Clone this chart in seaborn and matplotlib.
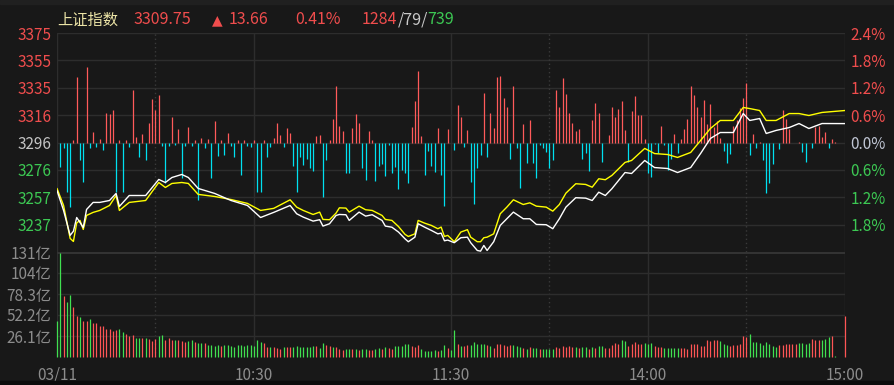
import matplotlib
matplotlib.use("Agg")
import matplotlib.pyplot as plt
import numpy as np
import pandas as pd
import seaborn as sns

# ---------------- data ----------------
PRE_CLOSE = 3296.09
LAST = 3309.75
CHANGE = 13.66
CHANGE_PCT = "0.41%"
ADV, FLAT, DEC = 1284, 79, 739

x_tick_minutes = [0, 60, 120, 180, 240]
x_tick_labels = ["03/11", "10:30", "11:30", "14:00", "15:00"]
dotted_minutes = [30, 150, 210]

price_tick_labels = ["3375", "3355", "3335", "3316", "3296", "3276", "3257", "3237"]
pct_tick_values = [2.4, 1.8, 1.2, 0.6, 0.0, -0.6, -1.2, -1.8]
pct_tick_labels = ["2.4%", "1.8%", "1.2%", "0.6%", "0.0%", "0.6%", "1.2%", "1.8%"]

vol_tick_values = [26.1, 52.2, 78.3, 104.4, 130.5]
vol_tick_labels = ["26.1亿", "52.2亿", "78.3亿", "104亿", "131亿"]

line_minutes = [0, 2, 4, 5, 6, 7, 8, 9, 11, 13, 16, 18, 19, 22, 27, 31, 33, 35, 38, 40,
                43, 48, 53, 58, 62, 66,
                71, 73, 75, 78, 80, 81, 83, 85, 86, 88, 89, 92, 94, 96, 99, 100, 102, 104,
                106, 107, 109, 110, 112, 114, 116, 117, 118, 119, 121, 123, 125, 126, 128,
                129, 130, 131, 133, 135, 137, 139, 142, 144, 146, 149, 151, 153, 155, 158,
                161, 163, 165, 167, 169,
                173, 175, 179, 182, 186, 189, 193, 196, 199, 202, 206, 209, 211, 214, 216,
                219, 223, 226, 229, 233, 240]
index_price = [3261.4, 3247.0, 3229.0, 3232.0, 3241.9, 3238.3, 3234.7, 3247.7, 3252.8, 3252.8,
               3254.2, 3259.3, 3249.9, 3257.8, 3257.8, 3269.4, 3267.2, 3270.8, 3273.0, 3270.8,
               3262.9, 3259.3, 3254.2, 3250.6, 3241.9, 3245.6,
               3250.6, 3244.6, 3242.2, 3239.3, 3240.3, 3235.7, 3237.4, 3243.4, 3244.1, 3243.9,
               3239.8, 3245.8, 3242.9, 3243.9, 3239.8, 3235.7, 3234.9, 3231.4, 3226.5, 3224.4,
               3227.7, 3237.4, 3234.9, 3232.6, 3230.1, 3230.6, 3225.1, 3225.6, 3223.7, 3227.3,
               3227.7, 3223.7, 3218.1, 3217.6, 3221.7, 3218.1, 3224.4, 3236.2, 3241.0, 3245.8,
               3241.0, 3241.0, 3236.9, 3236.7, 3233.8, 3241.0, 3249.4, 3256.2, 3255.9, 3254.2,
               3260.2, 3257.8, 3262.7,
               3274.4, 3273.7, 3283.1, 3278.0, 3277.3, 3274.4, 3278.0, 3288.1, 3299.0, 3303.3,
               3303.3, 3317.0, 3312.0, 3313.4, 3302.6, 3304.8, 3306.9, 3309.8, 3306.2, 3309.8,
               3309.75]
equal_weight = [3262.9, 3250.6, 3226.8, 3224.6, 3238.0, 3239.8, 3233.3, 3243.4, 3245.6, 3247.0,
                3250.6, 3257.8, 3247.0, 3252.8, 3254.2, 3267.2, 3263.6, 3266.5, 3267.2, 3266.5,
                3258.6, 3257.1, 3254.9, 3252.1, 3247.0, 3248.5,
                3254.7, 3249.4, 3247.0, 3244.1, 3245.8, 3240.5, 3240.3, 3245.1, 3248.9, 3248.7,
                3245.8, 3250.1, 3247.5, 3247.0, 3243.4, 3240.5, 3239.8, 3235.4, 3229.7, 3228.2,
                3230.1, 3239.8, 3237.8, 3236.2, 3233.8, 3235.0, 3228.2, 3229.0, 3224.4, 3231.4,
                3233.1, 3227.7, 3224.4, 3224.4, 3227.3, 3227.7, 3230.1, 3244.6, 3249.4, 3254.7,
                3251.3, 3252.5, 3250.1, 3249.4, 3246.5, 3251.3, 3259.5, 3266.3, 3265.8, 3263.8,
                3269.9, 3269.2, 3272.3,
                3281.7, 3283.1, 3291.8, 3288.1, 3287.4, 3285.3, 3288.9, 3297.5, 3306.2, 3312.0,
                3312.0, 3321.4, 3320.6, 3319.2, 3312.0, 3312.0, 3317.0, 3317.0, 3315.6, 3317.8,
                3319.2]

# per-minute breadth (buy/sell strength) bars, arbitrary units
breadth = [
    0, -25, -6, -50, -65, 3, 66, -18, -40, 76,
    -6, 11, -5, 4, -8, 30, 29, 33, -50, 3,
    -50, 3, -5, 53, 6, -15, 9, -18, 20, 44,
    33, 48, -4, -41, -4, 26, -3, 14, -36, -4,
    16, -4, 3, -58, 5, -6, 4, -36, 22, -14,
    3, -13, 10, -4, -15, 3, -33, 3, -4, -5,
    3, -50, -50, 3, -15, -5, 5, 20, 8, -5,
    15, 10, -24, -50, -15, -23, -17, -26, -29, 7,
    8, -55, -18, 3, 24, 57, 17, 12, -31, -31,
    15, 29, 20, -26, -38, 12, 3, -39, -24, -22,
    -34, -3, -31, -25, -47, -28, -31, -41, 16, 42,
    72, 7, -33, -9, -24, -30, 15, -33, -64, 14,
    0, -8, 38, 26, -5, 13, -40, -62, -26, -13,
    50, -15, 30, 15, 66, 67, 45, 36, -17, 57,
    -6, -46, 19, -21, 23, -21, -36, -3, -6, -10,
    -26, -18, 53, 36, 65, 49, 30, 20, 12, 14,
    -17, -11, -29, 23, 40, 30, -20, -1, 8, 36,
    26, 34, 42, 13, -20, 32, 47, 28, 28, 4,
    -31, -35, -2, -11, 17, -3, -28, -17, 9, -11,
    4, 14, 24, 57, 48, 36, 26, 43, 19, 39,
    16, 22, 5, -9, -21, -12, 17, 23, 35, 45,
    60, -13, 9, -6, 1, -18, -51, -41, -22, 0,
    -7, 33, 24, 14, 0, 0, 1, -10, -20, 0,
    -6, 16, 17, 6, 11, -6, 4, 1, 0, 0,
    0]

# per-minute turnover (亿)
volume = [
    44.7, 129.0, 75.8, 68.4, 77.0, 62.0, 51.0, 49.7, 44.7, 44.7,
    47.2, 42.3, 42.3, 38.5, 38.5, 34.8, 34.8, 32.3, 33.6, 34.8,
    31.1, 28.6, 26.1, 27.3, 23.6, 23.6, 23.6, 23.6, 22.4, 19.9,
    22.4, 26.1, 27.3, 21.1, 23.6, 21.1, 21.1, 21.1, 19.9, 18.6,
    19.9, 21.1, 18.6, 17.4, 17.4, 17.4, 15.0, 15.0, 14.0, 15.0,
    14.0, 15.0, 15.0, 14.0, 13.0, 15.0, 15.0, 14.0, 15.0, 15.0,
    14.0, 21.0, 18.6, 17.4, 12.4, 12.4, 12.4, 11.0, 10.0, 12.4,
    12.4, 12.4, 12.0, 13.7, 12.4, 12.4, 12.8, 12.8, 14.1, 13.7,
    11.2, 17.4, 14.9, 13.7, 12.0, 12.8, 9.9, 8.7, 9.9, 9.9,
    9.9, 9.9, 8.7, 9.9, 9.9, 8.7, 8.7, 10.4, 11.6, 10.4,
    12.4, 11.2, 9.9, 13.7, 13.7, 13.7, 16.2, 16.2, 13.7, 12.4,
    14.9, 9.9, 7.5, 7.5, 7.5, 9.1, 7.5, 8.7, 14.9, 11.6,
    8.7, 33.6, 16.2, 13.7, 13.7, 14.9, 14.9, 18.6, 16.2, 16.2,
    16.2, 14.9, 13.7, 11.6, 16.2, 16.2, 14.9, 13.7, 14.9, 14.9,
    13.7, 12.4, 11.2, 9.9, 12.4, 11.2, 11.2, 9.9, 9.9, 9.9,
    9.9, 9.9, 12.4, 11.2, 13.7, 12.4, 13.7, 12.4, 12.4, 11.2,
    12.4, 12.4, 9.9, 12.4, 11.2, 13.7, 13.7, 11.2, 11.2, 14.9,
    17.4, 16.2, 21.1, 19.9, 13.7, 16.2, 18.6, 16.2, 16.2, 17.4,
    16.2, 17.4, 13.7, 12.4, 12.4, 11.2, 11.2, 11.2, 11.2, 11.2,
    11.2, 11.2, 9.9, 16.2, 16.2, 16.2, 13.7, 13.7, 21.1, 19.9,
    21.1, 21.1, 19.9, 16.2, 14.9, 13.7, 14.9, 14.9, 16.2, 26.1,
    24.9, 28.6, 18.6, 18.6, 17.4, 14.9, 18.6, 16.2, 13.7, 12.4,
    14.9, 14.9, 16.2, 16.2, 16.2, 16.2, 17.4, 17.4, 16.2, 17.4,
    22.4, 21.1, 21.1, 21.1, 22.4, 24.9, 26.1, 1.2, 0.0, 0.0,
    51.0]
# r = up minute (red), g = down minute (green)
volume_dir = (
    "ggrggrrgrrgrrrrrrrrggrrrggrgrrrggrrrgrrrggrggr"      # 0-45
    "ggggrgggggggggg"                                      # 46-60
    "ggrrgrrrgrr"                                          # 61-71
    "gggggggrgg" "rrgrrrggrg" "rggrrggrgr" "rgggggrrrg" "ggggrggrgg"
    "rgrrgggggr" "grrrrrrggg" "rgrggrgggg" "rrrrrrgrgg" "rgrg"   # 72-165
    "grrrrrggrr" "rrrgggrrrg" "ggggrrrrrr" "rrrrrrgggr" "rrrrrggggg"
    "ggggrrrrrr" "ggggrrrggg" "rg"                         # 166-237
    "ggr")                                                 # 238-240

assert len(breadth) == 241 and len(volume) == 241 and len(volume_dir) == 241
assert len(line_minutes) == len(index_price) == len(equal_weight)

# ---------------- style ----------------
BG = "#181818"
GRID = "#2d2d2d"
RED_TXT = "#f04d4d"
GREEN_TXT = "#3cc853"
GRAY_TXT = "#8c8c8c"
BAR_RED = "#ff5a5a"
BAR_CYAN = "#00e0f0"
VOL_RED = "#ff5555"
VOL_GREEN = "#40e050"
FONT = ["Noto Sans CJK SC", "DejaVu Sans"]
BAR_LW = 0.9

sns.set_theme(style="dark", rc={"axes.facecolor": BG, "figure.facecolor": BG})
plt.rcParams["font.family"] = FONT
plt.rcParams["axes.unicode_minus"] = False

W, H = 895, 385
fig = plt.figure(figsize=(W / 100, H / 100), dpi=100)
fig.patch.set_facecolor(BG)

L, R = 57, 845
ax = fig.add_axes([L / W, (H - 252) / H, (R - L) / W, (252 - 33) / H])
axv = fig.add_axes([L / W, (H - 357) / H, (R - L) / W, (357 - 252) / H])

df_lines = pd.DataFrame({
    "minute": line_minutes,
    "index_pct": [(p / PRE_CLOSE - 1) * 100 for p in index_price],
    "equal_pct": [(p / PRE_CLOSE - 1) * 100 for p in equal_weight],
})
minutes = np.arange(241)
BREADTH_SCALE = 0.6 / 27.4  # percent per unit
b = np.array(breadth) * BREADTH_SCALE

for a in (ax, axv):
    a.set_facecolor(BG)
    for s in a.spines.values():
        s.set_visible(False)
    a.set_xlim(0, 240)
    a.grid(False)

# main panel grid
for v in [2.4, 1.8, 1.2, 0.6, 0.0, -0.6, -1.2, -1.8]:
    ax.axhline(v, color=GRID, lw=1, zorder=0)
for m in [0, 60, 120, 180, 240]:
    ax.axvline(m, color=GRID, lw=1, zorder=0)
    axv.axvline(m, color=GRID, lw=1, zorder=0)
for m in dotted_minutes:
    ax.axvline(m, color="#3a3a3a", lw=1, ls=(0, (1, 2)), zorder=0)
    axv.axvline(m, color="#3a3a3a", lw=1, ls=(0, (1, 2)), zorder=0)

# breadth bars
ax.vlines(minutes[b > 0], 0, b[b > 0], color=BAR_RED, lw=BAR_LW, zorder=2)
ax.vlines(minutes[b < 0], 0, b[b < 0], color=BAR_CYAN, lw=BAR_LW, zorder=2)

sns.lineplot(data=df_lines, x="minute", y="equal_pct", ax=ax, color="#ffff00", lw=1.0, zorder=3)
sns.lineplot(data=df_lines, x="minute", y="index_pct", ax=ax, color="#ffffff", lw=1.0, zorder=4)
ax.set_ylim(-2.4, 2.4)
ax.set_xlabel("")
ax.set_ylabel("")
ax.set_xticks([])

ax.set_yticks(pct_tick_values)
ax.set_yticklabels(price_tick_labels)
ax.tick_params(axis="y", length=0, pad=4, labelsize=11)
for t, v in zip(ax.get_yticklabels(), pct_tick_values):
    t.set_color(RED_TXT if v > 0 else (GREEN_TXT if v < 0 else "#c4c4c4"))

axr = ax.twinx()
axr.set_ylim(-2.4, 2.4)
axr.set_yticks(pct_tick_values)
axr.set_yticklabels(pct_tick_labels)
axr.tick_params(axis="y", length=0, pad=4, labelsize=11)
axr.grid(False)
for s in axr.spines.values():
    s.set_visible(False)
for t, v in zip(axr.get_yticklabels(), pct_tick_values):
    t.set_color(RED_TXT if v > 0 else (GREEN_TXT if v < 0 else "#c0c6d4"))

# volume panel
vol = np.array(volume)
up = np.array([c == "r" for c in volume_dir])
for v in vol_tick_values[:-1]:
    axv.axhline(v, color=GRID, lw=1, zorder=0)
axv.axhline(130.5, color="#333333", lw=2.2, zorder=0)
axv.vlines(minutes[up], 0, vol[up], color=VOL_RED, lw=BAR_LW, zorder=2, clip_on=False)
axv.vlines(minutes[~up], 0, vol[~up], color=VOL_GREEN, lw=BAR_LW, zorder=2, clip_on=False)
axv.set_ylim(0, 130.5)
axv.set_yticks(vol_tick_values)
axv.set_yticklabels(vol_tick_labels)
axv.tick_params(axis="y", length=0, pad=4, labelsize=11, labelcolor=GRAY_TXT)
axv.set_xticks(x_tick_minutes)
axv.set_xticklabels(x_tick_labels)
axv.tick_params(axis="x", length=0, pad=7, labelsize=11, labelcolor=GRAY_TXT)

# header row
yh = 1 - 20 / H
HFS = 11.5
fig.text(57 / W, yh, "上证指数", color="#ece4a6", fontsize=11, va="center", family=FONT)
fig.text(133 / W, yh, f"{LAST:.2f}", color=RED_TXT, fontsize=HFS, va="center", family=FONT)
fig.text(212 / W, yh, "▲", color=RED_TXT, fontsize=10, va="center", family=["DejaVu Sans"])
fig.text(229 / W, yh, f"{CHANGE:.2f}", color=RED_TXT, fontsize=HFS, va="center", family=FONT)
fig.text(295 / W, yh, CHANGE_PCT, color=RED_TXT, fontsize=HFS, va="center", family=FONT)

fig.canvas.draw()
rend = fig.canvas.get_renderer()
xpos = 362
for txt, col in [(f"{ADV}", RED_TXT), (f"/{FLAT}/", "#c8c8c8"), (f"{DEC}", GREEN_TXT)]:
    t = fig.text(xpos / W, yh, txt, color=col, fontsize=HFS, va="center", family=FONT)
    bb = t.get_window_extent(rend)
    xpos = bb.x1

# thin frame strips at top / bottom of the widget
fig.patches.append(plt.Rectangle((0, 1 - 4 / H), 1, 4 / H, transform=fig.transFigure,
                                 color="#202020", zorder=0))
fig.patches.append(plt.Rectangle((0, 0), 1, 4 / H, transform=fig.transFigure,
                                 color="#0c0c0c", zorder=0))

fig.savefig("out.png", dpi=100, facecolor=BG)
